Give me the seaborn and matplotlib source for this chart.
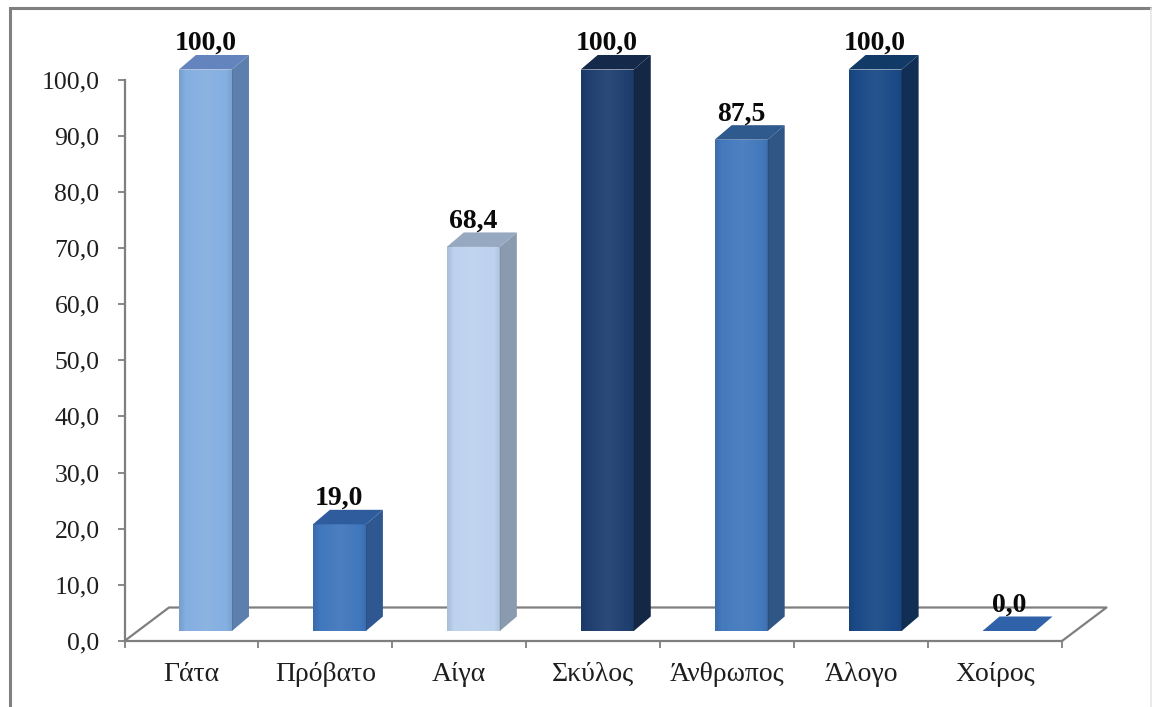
import numpy as np
import pandas as pd
import matplotlib
matplotlib.use("Agg")
import matplotlib.pyplot as plt
from matplotlib.lines import Line2D
from matplotlib.patches import Polygon
import seaborn as sns

species = ["Γάτα", "Πρόβατο", "Αίγα", "Σκύλος", "Άνθρωπος", "Άλογο", "Χοίρος"]
percent = [100.0, 19.0, 68.4, 100.0, 87.5, 100.0, 0.0]
y_tick_values = [0, 10, 20, 30, 40, 50, 60, 70, 80, 90, 100]
y_tick_labels = ["0,0", "10,0", "20,0", "30,0", "40,0", "50,0", "60,0", "70,0", "80,0", "90,0", "100,0"]
front_colors = ["#84AFE1", "#4177BD", "#BDD2EE", "#1F3F70", "#4379BD", "#1A4A87", "#2F62A8"]
side_colors = ["#5C7FAE", "#2F5791", "#8A9BB0", "#142846", "#2F5685", "#112F55", "#2F62A8"]
top_colors = ["#6484BE", "#2E5C9C", "#97A9C0", "#15294A", "#2E5A8E", "#123A66", "#2F62A8"]

W, H = 1152, 707
GRAY = "#7F7F7F"

sns.set_theme(style="white")
plt.rcParams["font.family"] = ["Liberation Serif", "DejaVu Serif"]

fig = plt.figure(figsize=(W / 100, H / 100), dpi=100, facecolor="white")
ax = fig.add_axes([124.5 / W, (H - 641) / H, (1062 - 124.5) / W, (641 - 79.5) / H])
ax.patch.set_alpha(0)

data = pd.DataFrame({"species": species, "percent": percent})
sns.barplot(data=data, x="species", y="percent", hue="species", palette=front_colors,
            legend=False, width=0.396, saturation=1, ax=ax, zorder=3, linewidth=0)
ax.set_xlim(-0.5, 6.5)
ax.set_ylim(0, 100)
ax.set_xlabel("")
ax.set_ylabel("")

# Pixel sizes expressed in data units for the pseudo-3D construction
px_x = 7 / (1062 - 124.5)
px_y = 100 / (641 - 79.5)
lift_x, lift_y = 14 * px_x, 10 * px_y      # front face sits forward on the floor
depth_x, depth_y = 17 * px_x, 14.5 * px_y  # extrusion of each column
floor_x, floor_y = 44.5 * px_x, 33.5 * px_y

# Floor outline
floor_style = dict(color=GRAY, lw=1.6, clip_on=False, solid_capstyle="round", zorder=1)
ax.plot([-0.5, -0.5 + floor_x, 6.5 + floor_x, 6.5], [0, floor_y, floor_y, 0], **floor_style)

grad_x = np.linspace(0, 1, 64)
shade = np.interp(grad_x, [0, 0.12, 0.5, 0.88, 1], [0.10, 0.0, -0.06, 0.0, 0.08])

for bar, value, front, side, top in zip(ax.patches, percent, front_colors, side_colors, top_colors):
    x0 = bar.get_x() + lift_x
    bar.set_x(x0)
    bar.set_y(lift_y)
    bar.set_clip_on(False)
    w = bar.get_width()
    x1 = x0 + w
    y0 = lift_y
    y1 = lift_y + value

    if value > 0:
        # Soft cylinder-like sheen across the front face
        rgba = np.zeros((1, 64, 4))
        rgba[0, :, :3] = np.where(shade[:, None] > 0, 0.0, 1.0)
        rgba[0, :, 3] = np.abs(shade)
        ax.imshow(rgba, extent=(x0, x1, y0, y1), aspect="auto", zorder=3.1,
                  interpolation="bilinear", clip_on=False)
        ax.add_patch(Polygon([(x1, y0), (x1 + depth_x, y0 + depth_y),
                              (x1 + depth_x, y1 + depth_y), (x1, y1)],
                             closed=True, fc=side, ec="none", zorder=3, clip_on=False))
    ax.add_patch(Polygon([(x0, y1), (x0 + depth_x, y1 + depth_y),
                          (x1 + depth_x, y1 + depth_y), (x1, y1)],
                         closed=True, fc=top, ec="none", zorder=3, clip_on=False))
    ax.annotate(f"{value:.1f}".replace(".", ","), xy=(x0 + w / 2, y1),
                xytext=(0, 19.5 * 0.72), textcoords="offset points", ha="center", va="baseline",
                fontsize=20, fontweight="bold", color="#0A0A0A", zorder=5, annotation_clip=False)

ax.set_xlim(-0.5, 6.5)
ax.set_ylim(0, 100)

# Axes styling
sns.despine(ax=ax)
for name in ("left", "bottom"):
    ax.spines[name].set_color(GRAY)
    ax.spines[name].set_linewidth(1.6)
ax.set_yticks(y_tick_values, y_tick_labels)
ax.set_xticks(range(len(species)), species)
ax.set_xticks(np.arange(-0.5, 7), minor=True)
ax.tick_params(axis="y", length=5, width=1.3, color=GRAY, pad=13, labelsize=18.5,
               labelcolor="#1E1E1E", left=True)
ax.tick_params(axis="x", which="major", length=0, pad=15, labelsize=20, labelcolor="#1E1E1E")
ax.tick_params(axis="x", which="minor", length=5, width=1.3, color=GRAY, bottom=True)

# Outer frame
fig.add_artist(Line2D([9.5 / W, 9.5 / W, 1], [0, (H - 8) / H, (H - 8) / H],
                      color="#808080", lw=2.2, solid_joinstyle="miter"))
fig.add_artist(Line2D([1150.5 / W, 1150.5 / W], [0, (H - 8) / H], color="#E6E6E6", lw=1.2))

fig.savefig("out.png", dpi=100, facecolor="white")
